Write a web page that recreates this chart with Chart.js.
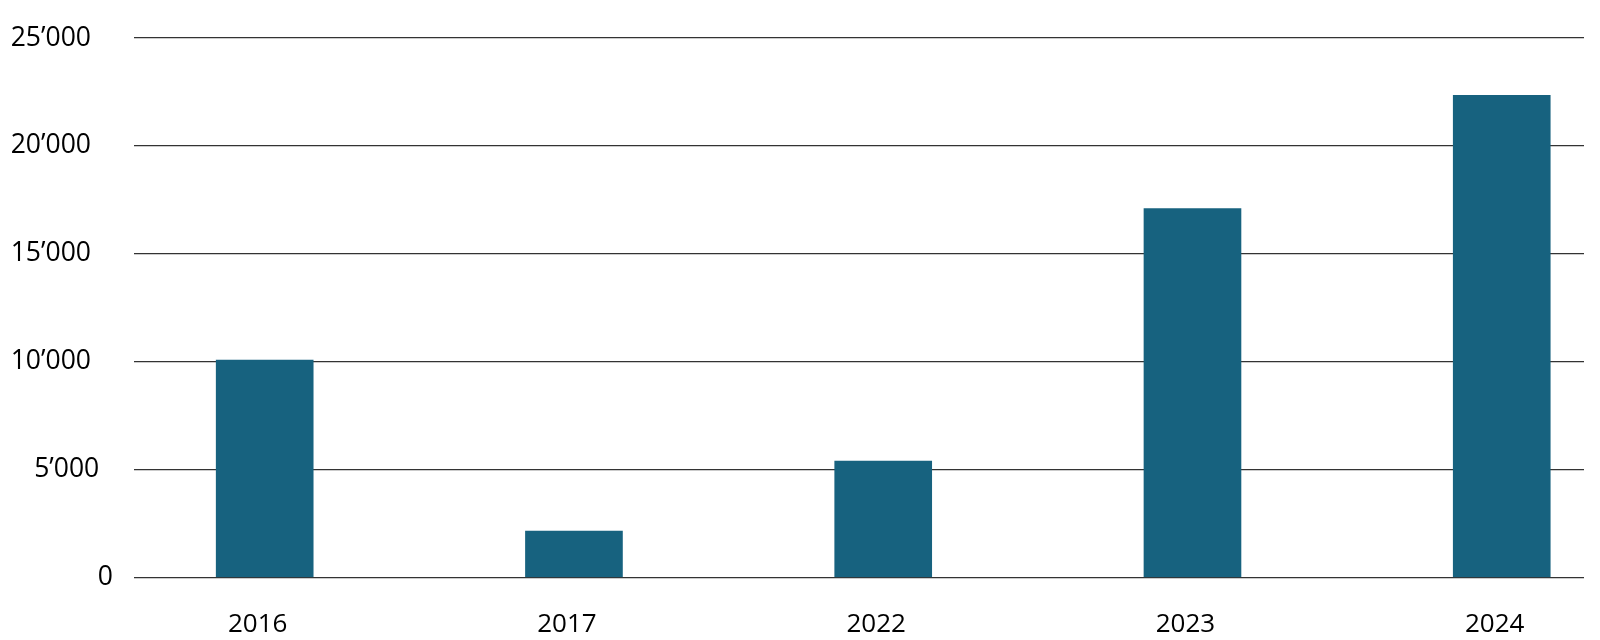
<!DOCTYPE html>
<html>
<head>
<meta charset="utf-8">
<script src="https://cdn.jsdelivr.net/npm/chart.js@4"></script>
<style>
html,body{margin:0;padding:0;background:#fff;}
#wrap{width:1600px;height:640px;position:relative;}
</style>
</head>
<body>
<div id="wrap"><canvas id="c"></canvas></div>
<script>
const categories = ['2016', '2017', '2022', '2023', '2024'];
const values = [10080, 2150, 5390, 17100, 22340];
const yTicks = [0, 5000, 10000, 15000, 20000, 25000];
const yTickLabels = ['0', '5’000', '10’000', '15’000', '20’000', '25’000'];

const barColor = '#17627f';
const gridColor = '#333333';
const fontFamily = "'Open Sans', 'Noto Sans', sans-serif";

// trailing padding so labels sit like the reference (not flush right)
function padLabel(s) {
  if (s.length >= 6) return s + '\u2007 ';
  if (s.length === 5) return s + '  ';
  return s;
}

new Chart(document.getElementById('c'), {
  type: 'bar',
  data: {
    datasets: [{
      data: values.map((v, i) => ({ x: i, y: v })),
      backgroundColor: barColor,
      borderWidth: 0,
      barThickness: 97
    }]
  },
  options: {
    responsive: true,
    maintainAspectRatio: false,
    animation: false,
    devicePixelRatio: 1,
    layout: { padding: { top: 38, right: 16, bottom: 0, left: 0 } },
    plugins: { legend: { display: false }, tooltip: { enabled: false } },
    scales: {
      x: {
        type: 'linear',
        offset: false,
        min: -0.4226,
        max: 4.266,
        grid: { display: false, offset: false },
        border: { display: false },
        afterBuildTicks: (s) => { s.ticks = categories.map((c, i) => ({ value: i })); },
        afterFit: (s) => { s.height = 62.5; },
        ticks: {
          autoSkip: false,
          maxRotation: 0,
          padding: 23,
          labelOffset: -7,
          color: '#000',
          font: { family: fontFamily, size: 26 },
          callback: (v) => categories[v] !== undefined ? categories[v] : ''
        }
      },
      y: {
        min: 0,
        max: 25000,
        afterBuildTicks: (s) => { s.ticks = yTicks.map(v => ({ value: v })); },
        afterFit: (s) => { s.width = 134; },
        border: { display: false },
        grid: { color: gridColor, lineWidth: 1.2, drawTicks: false },
        ticks: {
          padding: 21,
          color: '#000',
          font: { family: fontFamily, size: 26.5 },
          callback: (v) => {
            const i = yTicks.indexOf(v);
            return i >= 0 ? padLabel(yTickLabels[i]) : '';
          }
        }
      }
    }
  }
});
</script>
</body>
</html>
